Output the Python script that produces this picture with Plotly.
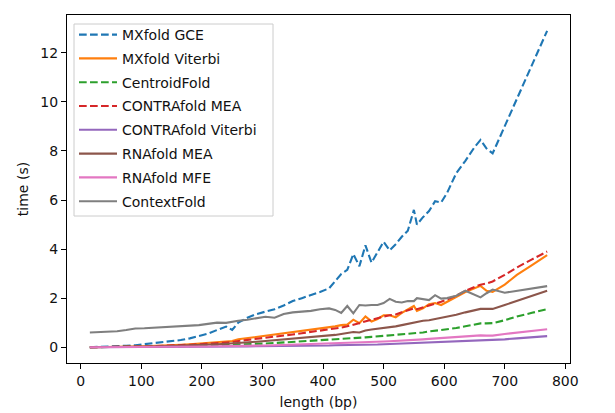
import plotly.graph_objects as go

length_bp = [15, 30, 45, 60, 75, 90, 105, 120, 135, 150,
             165, 180, 195, 210, 225, 240, 250, 260, 275, 290,
             305, 320, 335, 350, 365, 380, 395, 410, 420, 430,
             440, 450, 460, 470, 480, 490, 500, 510, 520, 530,
             540, 550, 555, 565, 575, 585, 595, 605, 620, 635,
             650, 660, 670, 680, 700, 720, 745, 770]

mxfold_gce = [0.00, 0.01, 0.02, 0.04, 0.06, 0.08, 0.12, 0.15, 0.19, 0.24,
              0.29, 0.36, 0.44, 0.55, 0.70, 0.84, 0.70, 1.00, 1.20, 1.35,
              1.45, 1.55, 1.70, 1.88, 2.00, 2.12, 2.25, 2.40, 2.68, 2.98,
              3.15, 3.80, 3.30, 4.15, 3.45, 3.90, 4.30, 3.95, 4.20, 4.50,
              4.75, 5.60, 5.00, 5.30, 5.55, 5.95, 5.90, 6.30, 7.10, 7.60,
              8.15, 8.45, 8.10, 7.90, 9.00, 10.10, 11.50, 12.90]

mxfold_viterbi = [0.00, 0.00, 0.01, 0.01, 0.02, 0.03, 0.04, 0.05, 0.06, 0.08,
                  0.10, 0.12, 0.15, 0.18, 0.21, 0.23, 0.25, 0.32, 0.37, 0.42,
                  0.46, 0.50, 0.56, 0.62, 0.66, 0.70, 0.75, 0.79, 0.85, 0.90,
                  0.92, 1.12, 0.98, 1.25, 1.05, 1.15, 1.30, 1.30, 1.22, 1.40,
                  1.55, 1.68, 1.48, 1.58, 1.75, 1.80, 1.72, 1.85, 2.05, 2.25,
                  2.40, 2.50, 2.30, 2.25, 2.55, 2.95, 3.35, 3.75]

centroidfold = [0.00, 0.00, 0.00, 0.00, 0.01, 0.01, 0.01, 0.02, 0.02, 0.03,
                0.03, 0.04, 0.05, 0.06, 0.07, 0.08, 0.09, 0.10, 0.11, 0.13,
                0.15, 0.17, 0.19, 0.21, 0.23, 0.25, 0.27, 0.29, 0.31, 0.33,
                0.35, 0.37, 0.36, 0.40, 0.42, 0.44, 0.46, 0.49, 0.50, 0.52,
                0.54, 0.58, 0.56, 0.60, 0.64, 0.67, 0.70, 0.72, 0.78, 0.85,
                0.92, 0.97, 0.97, 0.98, 1.10, 1.25, 1.40, 1.55]

contrafold_mea = [0.00, 0.00, 0.01, 0.01, 0.02, 0.02, 0.03, 0.04, 0.05, 0.06,
                  0.08, 0.10, 0.12, 0.14, 0.17, 0.19, 0.21, 0.25, 0.29, 0.33,
                  0.37, 0.42, 0.47, 0.52, 0.57, 0.62, 0.67, 0.72, 0.76, 0.80,
                  0.85, 0.92, 0.97, 1.05, 1.10, 1.18, 1.25, 1.30, 1.33, 1.42,
                  1.50, 1.58, 1.55, 1.62, 1.72, 1.78, 1.85, 1.95, 2.10, 2.30,
                  2.45, 2.55, 2.60, 2.68, 2.95, 3.25, 3.58, 3.90]

contrafold_viterbi = [0.00, 0.00, 0.00, 0.00, 0.00, 0.00, 0.00, 0.01, 0.01, 0.01,
                      0.01, 0.01, 0.02, 0.02, 0.02, 0.02, 0.03, 0.03, 0.03, 0.04,
                      0.04, 0.04, 0.05, 0.05, 0.06, 0.06, 0.07, 0.07, 0.08, 0.08,
                      0.09, 0.09, 0.10, 0.10, 0.11, 0.11, 0.12, 0.13, 0.13, 0.14,
                      0.15, 0.16, 0.16, 0.17, 0.18, 0.19, 0.20, 0.21, 0.23, 0.25,
                      0.27, 0.28, 0.28, 0.28, 0.32, 0.36, 0.40, 0.45]

rnafold_mea = [0.00, 0.00, 0.00, 0.01, 0.01, 0.02, 0.02, 0.03, 0.04, 0.05,
               0.06, 0.07, 0.08, 0.10, 0.12, 0.14, 0.15, 0.17, 0.19, 0.22,
               0.25, 0.28, 0.31, 0.34, 0.37, 0.40, 0.44, 0.48, 0.50, 0.54,
               0.57, 0.62, 0.60, 0.68, 0.72, 0.75, 0.80, 0.82, 0.85, 0.90,
               0.95, 1.00, 1.05, 1.08, 1.10, 1.15, 1.18, 1.22, 1.32, 1.42,
               1.52, 1.56, 1.56, 1.56, 1.72, 1.88, 2.08, 2.30]

rnafold_mfe = [0.00, 0.00, 0.00, 0.00, 0.00, 0.01, 0.01, 0.01, 0.01, 0.02,
               0.02, 0.02, 0.03, 0.03, 0.04, 0.04, 0.05, 0.05, 0.06, 0.06,
               0.07, 0.08, 0.09, 0.10, 0.11, 0.12, 0.13, 0.14, 0.15, 0.16,
               0.17, 0.18, 0.19, 0.20, 0.21, 0.22, 0.23, 0.24, 0.25, 0.27,
               0.28, 0.30, 0.31, 0.32, 0.34, 0.36, 0.37, 0.39, 0.42, 0.44,
               0.47, 0.48, 0.47, 0.47, 0.54, 0.60, 0.66, 0.73]

contextfold = [0.60, 0.61, 0.62, 0.65, 0.70, 0.76, 0.77, 0.79, 0.80, 0.81,
               0.83, 0.86, 0.90, 0.95, 1.00, 0.99, 1.05, 1.08, 1.12, 1.18,
               1.24, 1.20, 1.35, 1.42, 1.45, 1.48, 1.55, 1.58, 1.52, 1.40,
               1.68, 1.38, 1.72, 1.70, 1.72, 1.72, 1.80, 1.97, 1.85, 1.82,
               1.88, 1.88, 2.00, 1.95, 1.92, 2.12, 1.98, 2.00, 2.10, 2.30,
               2.15, 2.03, 2.20, 2.35, 2.22, 2.30, 2.40, 2.49]

series = [
    ("MXfold GCE", mxfold_gce, "#1f77b4", "dash"),
    ("MXfold Viterbi", mxfold_viterbi, "#ff7f0e", "solid"),
    ("CentroidFold", centroidfold, "#2ca02c", "dash"),
    ("CONTRAfold MEA", contrafold_mea, "#d62728", "dash"),
    ("CONTRAfold Viterbi", contrafold_viterbi, "#9467bd", "solid"),
    ("RNAfold MEA", rnafold_mea, "#8c564b", "solid"),
    ("RNAfold MFE", rnafold_mfe, "#e377c2", "solid"),
    ("ContextFold", contextfold, "#7f7f7f", "solid"),
]

FONT = "DejaVu Sans"
TXT = "#111111"
fig = go.Figure()
for i, (name, vals, color, style) in enumerate(series):
    fig.add_trace(go.Scatter(
        x=length_bp, y=vals, mode="lines", name=name,
        legendgroup=f"g{i}",
        line=dict(color=color, width=2.1,
                  dash="7.7px,3.3px" if style == "dash" else "solid"),
    ))

axis_common = dict(
    showgrid=False, zeroline=False, showline=True, mirror=True,
    linecolor="black", linewidth=1.1, ticks="outside", ticklen=5,
    tickwidth=1.1, tickcolor="black", automargin=False,
    tickfont=dict(family=FONT, size=14, color=TXT),
)
fig.update_xaxes(range=[-22.75, 807.75], tick0=0, dtick=100,
                 title=dict(text="length (bp)", standoff=9,
                            font=dict(family=FONT, size=14, color=TXT)),
                 **axis_common)
fig.update_yaxes(range=[-0.645, 13.545], tick0=0, dtick=2,
                 title=dict(text="time (s)", standoff=8,
                            font=dict(family=FONT, size=14, color=TXT)),
                 **axis_common)

# legend frame (matplotlib-like, semi-opaque white with light grey edge)
PW, PH = 503.0, 348.0
fig.add_shape(type="rect", xref="paper", yref="paper", layer="above",
              x0=(74 - 67) / PW, x1=(273 - 67) / PW,
              y0=1 - (216 - 15) / PH, y1=1 - (24 - 15) / PH,
              fillcolor="rgba(255,255,255,0.8)",
              line=dict(color="#cccccc", width=1))

fig.update_layout(
    width=615, height=413,
    margin=dict(l=67, r=45, t=15, b=50, pad=0),
    plot_bgcolor="white", paper_bgcolor="white",
    font=dict(family=FONT, size=14, color=TXT),
    legend=dict(
        x=(74 - 67) / PW, y=1 - 4 / PH, xanchor="left", yanchor="top",
        bgcolor="rgba(0,0,0,0)", borderwidth=0,
        font=dict(family=FONT, size=14, color=TXT),
        tracegroupgap=2.6, itemwidth=38,
    ),
    showlegend=True,
)

fig.write_html("out.html")
